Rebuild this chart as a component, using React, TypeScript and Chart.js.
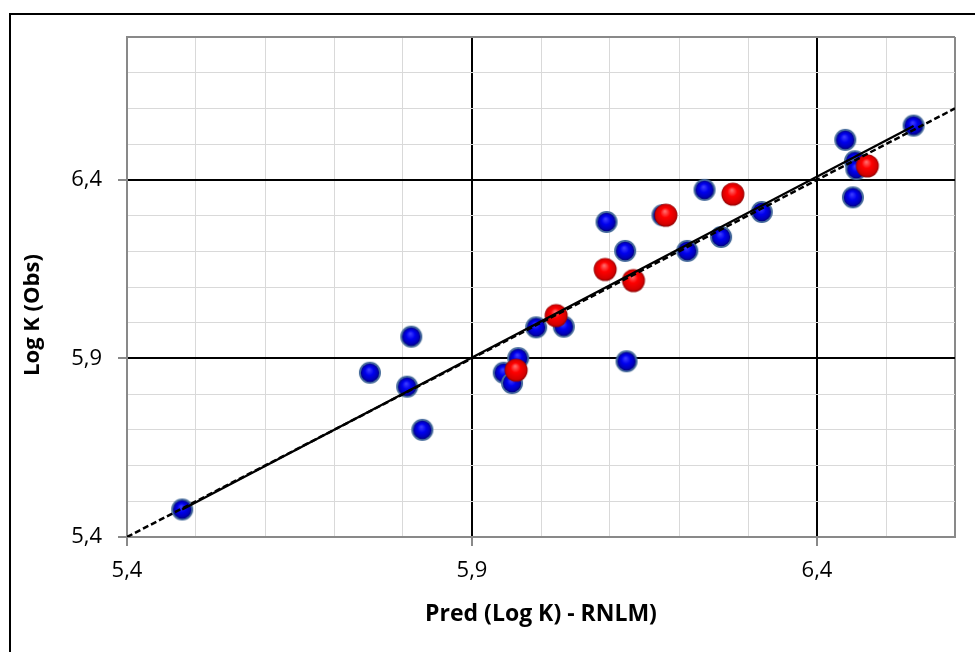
import React, { useEffect, useRef } from 'react';
import { Chart, registerables } from 'chart.js';

Chart.register(...registerables);

// ---- Data ----
const blueX = [5.480, 5.752, 5.812, 5.806, 5.828, 5.946, 5.958, 5.967, 5.993, 6.033, 6.124, 6.122, 6.095, 6.176, 6.212, 6.261, 6.237, 6.320, 6.441, 6.455, 6.457, 6.452, 6.540];
const blueY = [5.477, 5.860, 5.961, 5.821, 5.700, 5.860, 5.831, 5.901, 5.987, 5.989, 5.892, 6.201, 6.282, 6.301, 6.201, 6.240, 6.372, 6.310, 6.512, 6.452, 6.430, 6.351, 6.552];
const redX = [5.964, 6.022, 6.093, 6.134, 6.181, 6.278, 6.473];
const redY = [5.867, 6.020, 6.149, 6.118, 6.301, 6.360, 6.439];
const fitX = [5.48, 6.54];
const fitY = [5.477, 6.551];
const idX = [5.4, 6.6];
const idY = [5.4, 6.6];
const xMajorTicks = [5.4, 5.9, 6.4];
const yMajorTicks = [5.4, 5.9, 6.4];
const xRange = [5.4, 6.6];
const yRange = [5.4, 6.8];
const xTitle = 'Pred (Log K) - RNLM)';
const yTitle = 'Log K (Obs)';

const FONT = "'Open Sans', 'Noto Sans', sans-serif";
const GRAY_AXIS = '#898989';
const GRID_LIGHT = '#d9d9d9';

const near = (a: number, b: number) => Math.abs(a - b) < 1e-6;
const isMajor = (v: number, majors: number[]) => majors.some((m) => near(m, v));
const fmt = (v: number) => v.toFixed(1).replace('.', ',');

function gridColor(majors: number[], range: number[]) {
  return (ctx: any) => {
    const v = ctx.tick ? ctx.tick.value : NaN;
    if (near(v, range[0]) || near(v, range[1])) return GRAY_AXIS;
    if (isMajor(v, majors)) return '#000000';
    return GRID_LIGHT;
  };
}
function gridWidth(majors: number[], range: number[]) {
  return (ctx: any) => {
    const v = ctx.tick ? ctx.tick.value : NaN;
    if (near(v, range[0]) || near(v, range[1])) return 2;
    if (isMajor(v, majors)) return 2;
    return 1;
  };
}
function tickColor(majors: number[]) {
  return (ctx: any) => {
    const v = ctx.tick ? ctx.tick.value : NaN;
    return isMajor(v, majors) ? GRAY_AXIS : 'rgba(0,0,0,0)';
  };
}

function makeSphere(kind: 'blue' | 'red'): HTMLCanvasElement {
  const size = 26;
  const c = document.createElement('canvas');
  c.width = size;
  c.height = size;
  const g = c.getContext('2d')!;
  const cx = size / 2;
  const cy = size / 2;
  if (kind === 'blue') {
    const ring = g.createRadialGradient(cx, cy - 2, 2, cx, cy, 11);
    ring.addColorStop(0, '#7e9fce');
    ring.addColorStop(1, '#3f6596');
    g.fillStyle = ring;
    g.beginPath();
    g.arc(cx, cy, 11, 0, Math.PI * 2);
    g.fill();
    const inner = g.createRadialGradient(cx - 1, cy - 3, 0.5, cx, cy, 9.2);
    inner.addColorStop(0, '#3b3bff');
    inner.addColorStop(0.45, '#0000ee');
    inner.addColorStop(0.85, '#0000b4');
    inner.addColorStop(1, '#00007a');
    g.fillStyle = inner;
    g.beginPath();
    g.arc(cx, cy, 9.2, 0, Math.PI * 2);
    g.fill();
  } else {
    const inner = g.createRadialGradient(cx - 1, cy - 4, 0.5, cx, cy, 11.5);
    inner.addColorStop(0, '#ff6a6a');
    inner.addColorStop(0.4, '#ff0000');
    inner.addColorStop(0.85, '#d40000');
    inner.addColorStop(1, '#8c0000');
    g.fillStyle = inner;
    g.beginPath();
    g.arc(cx, cy, 11.5, 0, Math.PI * 2);
    g.fill();
  }
  return c;
}

// Vertical axis title, centred a little below the plot centre as in the reference
const yTitlePlugin = {
  id: 'yTitleOffset',
  afterDraw(chart: any) {
    const ctx = chart.ctx;
    const area = chart.chartArea;
    ctx.save();
    ctx.translate(33, (area.top + area.bottom) / 2 + 28);
    ctx.rotate(-Math.PI / 2);
    ctx.font = `bold 22px ${FONT}`;
    ctx.fillStyle = '#000000';
    ctx.textAlign = 'center';
    ctx.textBaseline = 'middle';
    ctx.fillText(yTitle, 0, 0);
    ctx.restore();
  },
};

export default function App() {
  const ref = useRef<HTMLCanvasElement>(null);

  useEffect(() => {
    if (!ref.current) return;
    const blueImg = makeSphere('blue');
    const redImg = makeSphere('red');

    const chart = new Chart(ref.current, {
      type: 'scatter',
      data: {
        datasets: [
          {
            label: 'Fit',
            data: fitX.map((x, i) => ({ x, y: fitY[i] })),
            showLine: true,
            borderColor: '#000000',
            borderWidth: 2.25,
            pointRadius: 0,
            fill: false,
          },
          {
            label: '1:1',
            data: idX.map((x, i) => ({ x, y: idY[i] })),
            showLine: true,
            borderColor: '#000000',
            borderWidth: 2.5,
            borderDash: [6, 3],
            pointRadius: 0,
            fill: false,
          },
          {
            label: 'Red',
            data: redX.map((x, i) => ({ x, y: redY[i] })),
            pointStyle: redImg as any,
            pointRadius: 12,
            showLine: false,
          },
          {
            label: 'Blue',
            data: blueX.map((x, i) => ({ x, y: blueY[i] })),
            pointStyle: blueImg as any,
            pointRadius: 12,
            showLine: false,
          },
        ],
      },
      options: {
        responsive: false,
        animation: false,
        devicePixelRatio: 1,
        layout: { padding: { top: 37, right: 20, left: 0, bottom: 0 }, autoPadding: false } as any,
        plugins: {
          legend: { display: false },
          tooltip: { enabled: false },
        },
        scales: {
          x: {
            type: 'linear',
            min: xRange[0],
            max: xRange[1],
            afterFit: (s: any) => {
              s.height = 115;
            },
            ticks: {
              stepSize: 0.1,
              autoSkip: false,
              maxRotation: 0,
              padding: 12,
              color: '#000000',
              font: { family: FONT, size: 22 },
              callback: (v: any) => (isMajor(Number(v), xMajorTicks) ? fmt(Number(v)) : ''),
            },
            grid: {
              color: gridColor(xMajorTicks, xRange),
              lineWidth: gridWidth(xMajorTicks, xRange),
              tickColor: tickColor(xMajorTicks),
              tickLength: 9,
              tickWidth: 2,
              drawTicks: true,
            },
            border: { display: true, color: GRAY_AXIS, width: 2 },
            title: {
              display: true,
              text: xTitle,
              color: '#000000',
              font: { family: FONT, size: 23, weight: 'bold' },
              padding: { top: 0, bottom: 24 },
            },
          },
          y: {
            type: 'linear',
            min: yRange[0],
            max: yRange[1],
            afterFit: (s: any) => {
              s.width = 127;
            },
            ticks: {
              stepSize: 0.1,
              autoSkip: false,
              padding: 16,
              color: '#000000',
              font: { family: FONT, size: 22 },
              callback: (v: any) => (isMajor(Number(v), yMajorTicks) ? fmt(Number(v)) : ''),
            },
            grid: {
              color: gridColor(yMajorTicks, yRange),
              lineWidth: gridWidth(yMajorTicks, yRange),
              tickColor: tickColor(yMajorTicks),
              tickLength: 9,
              tickWidth: 2,
              drawTicks: true,
            },
            border: { display: true, color: GRAY_AXIS, width: 2 },
            title: { display: false, text: yTitle },
          },
        },
      } as any,
      plugins: [yTitlePlugin],
    });

    return () => {
      chart.destroy();
    };
  }, []);

  return (
    <div style={{ position: 'fixed', left: 0, top: 0, width: 975, height: 652, background: '#ffffff', overflow: 'hidden' }}>
      <div
        style={{
          position: 'absolute',
          left: 9,
          top: 13,
          width: 1000,
          height: 700,
          borderLeft: '2px solid #000000',
          borderTop: '2px solid #000000',
        }}
      />
      <canvas ref={ref} width={975} height={652} style={{ position: 'absolute', left: 0, top: 0, width: 975, height: 652 }} />
    </div>
  );
}
